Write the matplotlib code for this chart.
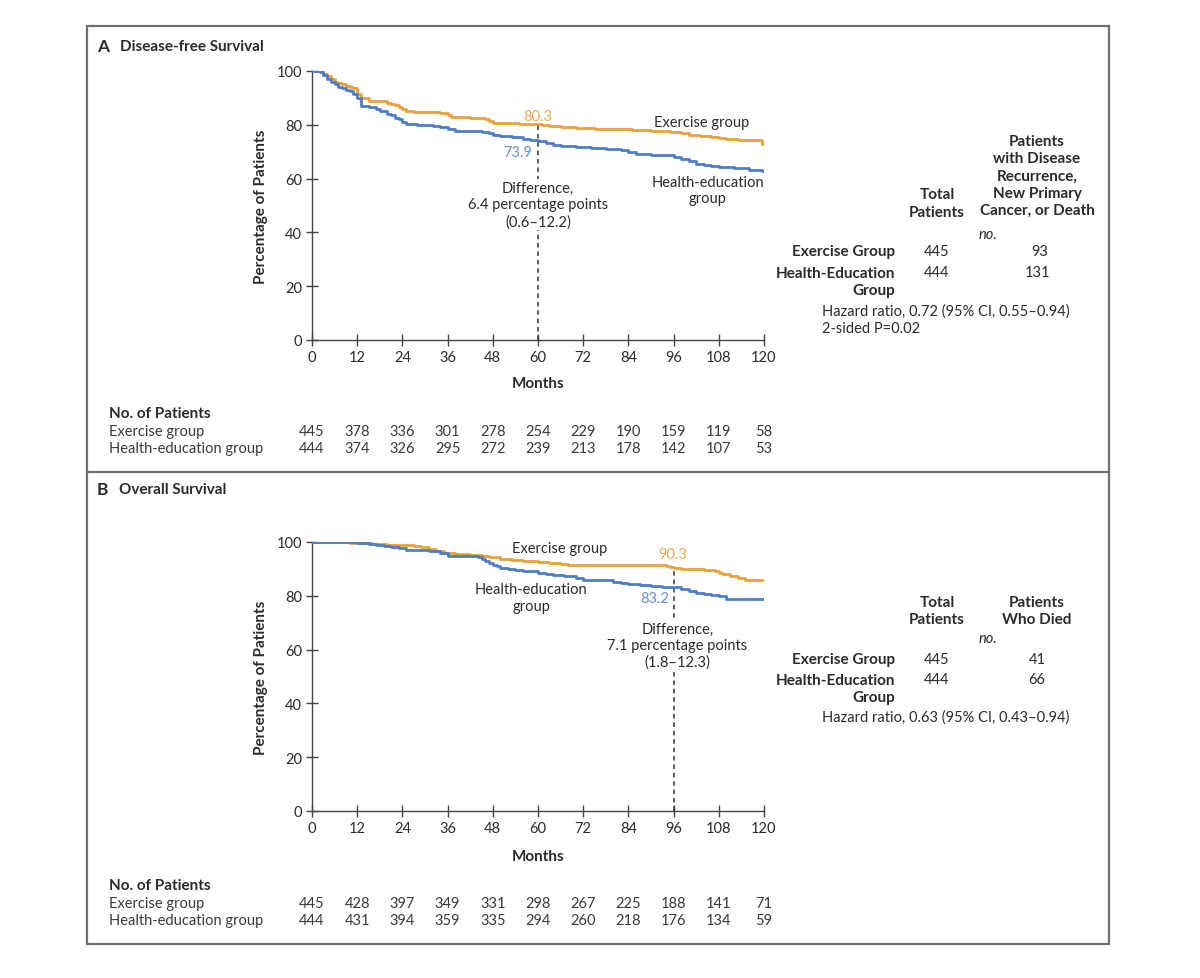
import matplotlib
matplotlib.use('Agg')
import matplotlib.pyplot as plt
from matplotlib.patches import Rectangle
from matplotlib.lines import Line2D

plt.rcParams['font.family'] = ['Lato', 'DejaVu Sans']

# data
months_ticks = [0, 12, 24, 36, 48, 60, 72, 84, 96, 108, 120]
pct_ticks = [0, 20, 40, 60, 80, 100]

# panel A: disease-free survival (step curves)
dfs_ex_t = [0, 3, 4, 5, 6, 7, 8, 9, 10, 11, 12, 13, 15, 18, 20, 21, 22, 23, 24, 25,
            27, 30, 34, 36, 37, 38, 42, 46, 47, 48, 50, 55, 58, 61, 63, 66, 70, 75,
            80, 85, 90, 95, 98, 100, 103, 106, 108, 110, 113, 117, 119.5, 120]
dfs_ex_s = [100, 99, 98, 97, 96, 95.5, 95, 94.5, 94, 93.5, 91.5, 90, 89, 88.7, 88.2,
            87.8, 87.2, 86.6, 85.8, 85.2, 84.9, 84.7, 84.4, 83.6, 83, 82.8, 82.6, 82.2,
            81.5, 80.8, 80.6, 80.4, 80.3, 79.8, 79.4, 79.1, 78.9, 78.6, 78.3, 78, 77.6,
            77.3, 76.8, 76.3, 75.9, 75.5, 75.1, 74.7, 74.4, 74.2, 73.0, 73.0]
dfs_he_t = [0, 2, 3, 4, 5, 6, 7, 8, 9, 10, 11, 12, 13, 15, 17, 18, 20, 21, 22, 23, 24,
            25, 28, 32, 34, 36, 38, 42, 45, 47, 48, 50, 53, 56, 58, 60, 62, 64, 66, 70,
            74, 78, 82, 84, 86, 90, 94, 96, 98, 100, 102, 104, 106, 108, 112, 116,
            119.5, 120]
dfs_he_s = [100, 99.5, 98.5, 97, 96, 95, 94, 93.5, 93, 92.5, 91.5, 90, 87, 86.5, 85.8,
            85, 84.2, 83.5, 82.7, 82, 81, 80.2, 80, 79.6, 79.2, 78.5, 77.8, 77.7, 77.5,
            77, 76.3, 75.9, 75.4, 74.9, 74.4, 73.9, 73.2, 72.6, 72.1, 71.9, 71.4, 71.1,
            70.6, 70.0, 69.0, 68.8, 68.6, 68.1, 67.3, 66.4, 65.6, 65, 64.6, 64.2, 63.8,
            63.3, 62.9, 62.9]

# panel B: overall survival
os_ex_t = [0, 10, 16, 20, 24, 27, 29, 31, 33, 35, 38, 42, 45, 47, 50, 53, 56, 60, 63,
           66, 68, 75, 85, 93, 94, 95, 96, 98, 100, 104, 107, 108, 109, 111, 113, 115, 120]
os_ex_s = [100, 99.8, 99.4, 99, 98.7, 98.5, 98.2, 97.5, 96.8, 96, 95.4, 95, 94.8, 94.6,
           93.8, 93.3, 93, 92.6, 92.3, 92, 91.6, 91.5, 91.4, 91.3, 91, 90.7, 90.3, 89.9,
           89.8, 89.7, 89.3, 88.6, 88, 87.3, 86.6, 86, 86]
os_he_t = [0, 12, 15, 17, 19, 21, 23, 25, 28, 31, 34, 36, 40, 44, 45, 46, 47, 48, 49,
           50, 52, 54, 56, 60, 62, 64, 67, 70, 72, 76, 80, 82, 84, 87, 90, 93, 96, 98,
           100, 102, 104, 106, 108, 110, 120]
os_he_s = [100, 99.8, 99.4, 99, 98.5, 98.2, 97.6, 97.2, 97, 96.6, 95.9, 94.9, 94.7,
           94.4, 93.8, 93.0, 92.2, 91.6, 91.0, 90.5, 90, 89.5, 89.2, 88.5, 88.0, 87.7,
           87.2, 86.7, 86.0, 85.8, 85.2, 84.8, 84.3, 84.0, 83.8, 83.4, 83.2, 82.4, 81.8,
           81.0, 80.6, 80.3, 79.8, 78.9, 78.9]

# numbers at risk
risk_ex_a = [445, 378, 336, 301, 278, 254, 229, 190, 159, 119, 58]
risk_he_a = [444, 374, 326, 295, 272, 239, 213, 178, 142, 107, 53]
risk_ex_b = [445, 428, 397, 349, 331, 298, 267, 225, 188, 141, 71]
risk_he_b = [444, 431, 394, 359, 335, 294, 260, 218, 176, 134, 59]

ORANGE = '#E9A23B'
BLUE = '#4E7DC8'
ORANGE_TXT = '#EBA94F'
BLUE_TXT = '#6A8FCB'
DARK = '#2b2b2b'
W, H = 1200, 979

fig = plt.figure(figsize=(W / 100, H / 100), dpi=100)


def fx(px):
    return px / W


def fy(py):
    return 1 - py / H


def ftext(px, py, s, **kw):
    kw.setdefault('color', DARK)
    kw.setdefault('fontsize', 10.5)
    fig.text(fx(px), fy(py), s, transform=fig.transFigure, **kw)


# outer frame and divider
fig.add_artist(Rectangle((fx(87), fy(945)), fx(1109) - fx(87), fy(27) - fy(945),
                         transform=fig.transFigure, fill=False, ec='#6f6f6f', lw=1.6))
fig.add_artist(Line2D([fx(87), fx(1109)], [fy(473), fy(473)],
                      transform=fig.transFigure, color='#6f6f6f', lw=1.6))


def km_panel(top_px, ex_t, ex_s, he_t, he_s, risk_ex, risk_he, months_px, risk_px):
    bottom_px = top_px + 269
    ax = fig.add_axes([fx(312), fy(bottom_px), fx(764) - fx(312), (269) / H])
    ax.step(ex_t, ex_s, where='post', color=ORANGE, lw=2.0, zorder=3)
    ax.step(he_t, he_s, where='post', color=BLUE, lw=2.0, zorder=3)
    ax.set_xlim(0, 120)
    ax.set_ylim(0, 100)
    ax.set_xticks(months_ticks)
    ax.set_yticks(pct_ticks)
    for sp in ['top', 'right']:
        ax.spines[sp].set_visible(False)
    for sp in ['left', 'bottom']:
        ax.spines[sp].set_color('#444444')
        ax.spines[sp].set_linewidth(1.0)
    ax.tick_params(direction='inout', length=8, width=1.0, color='#444444',
                   labelsize=10.5, labelcolor=DARK, pad=3)
    ax.set_ylabel('Percentage of Patients', fontsize=11, fontweight='bold',
                  color=DARK, labelpad=6)
    ftext(538, months_px, 'Months', fontsize=11, fontweight='bold',
          ha='center', va='center')
    # numbers at risk
    ftext(109, risk_px, 'No. of Patients', fontsize=11, fontweight='bold',
          va='center')
    ftext(109, risk_px + 18, 'Exercise group', va='center', color='#3a3a3a')
    ftext(109, risk_px + 35, 'Health-education group', va='center', color='#3a3a3a')
    for m, a, b in zip(months_ticks, risk_ex, risk_he):
        xpx = 312 + m / 120 * 452
        ftext(xpx, risk_px + 18, str(a), ha='center', va='center', color='#3a3a3a')
        ftext(xpx, risk_px + 35, str(b), ha='center', va='center', color='#3a3a3a')
    return ax


# panel A
ftext(103, 47, 'A', fontsize=12.5, fontweight='bold', ha='center', va='center')
ftext(120, 47, 'Disease-free Survival', fontsize=11, fontweight='bold', va='center')
ax_a = km_panel(72, dfs_ex_t, dfs_ex_s, dfs_he_t, dfs_he_s, risk_ex_a, risk_he_a, 384, 414)
ax_a.plot([60, 60], [0, 80.3], ls=(0, (3, 2.5)), color='#333333', lw=1.1, zorder=2)
ax_a.text(60, 83.3, '80.3', color=ORANGE_TXT, fontsize=10.5, ha='center', va='center')
ax_a.text(54.5, 70, '73.9', color=BLUE_TXT, fontsize=10.5, ha='center', va='center')
ax_a.text(60, 50.3, 'Difference,\n6.4 percentage points\n(0.6\u201312.2)', fontsize=10.5,
          color=DARK, ha='center', va='center', linespacing=1.22, zorder=4,
          bbox=dict(facecolor='white', edgecolor='none', pad=1.5))
ax_a.text(103.5, 81.2, 'Exercise group', fontsize=10.5, color=DARK, ha='center', va='center')
ax_a.text(105, 55.8, 'Health-education\ngroup', fontsize=10.5, color=DARK, ha='center',
          va='center', linespacing=1.22)

# panel A summary table
ftext(937, 204, 'Total\nPatients', fontsize=11, fontweight='bold', ha='center',
      va='center', linespacing=1.3)
ftext(1037, 176.5, 'Patients\nwith Disease\nRecurrence,\nNew Primary\nCancer, or Death',
      fontsize=11, fontweight='bold', ha='center', va='center', linespacing=1.3)
ftext(988, 235, 'no.', style='italic', fontsize=10.5, ha='center', va='center')
ftext(895, 252, 'Exercise Group', fontsize=11, fontweight='bold', ha='right', va='center')
ftext(895, 282.5, 'Health-Education\nGroup', fontsize=11, fontweight='bold', ha='right',
      va='center', linespacing=1.3)
ftext(937, 252, '445', ha='center', va='center')
ftext(1040, 252, '93', ha='center', va='center')
ftext(937, 273, '444', ha='center', va='center')
ftext(1038, 273, '131', ha='center', va='center')
ftext(822, 312, 'Hazard ratio, 0.72 (95% CI, 0.55\u20130.94)', va='center')
ftext(822, 329, '2-sided P=0.02', va='center')

# panel B
ftext(102, 490, 'B', fontsize=12.5, fontweight='bold', ha='center', va='center')
ftext(119, 490, 'Overall Survival', fontsize=11, fontweight='bold', va='center')
ax_b = km_panel(543, os_ex_t, os_ex_s, os_he_t, os_he_s, risk_ex_b, risk_he_b, 857, 886)
ax_b.plot([96, 96], [0, 90.3], ls=(0, (3, 2.5)), color='#333333', lw=1.1, zorder=2)
ax_b.text(95.7, 95.7, '90.3', color=ORANGE_TXT, fontsize=10.5, ha='center', va='center')
ax_b.text(91, 79, '83.2', color=BLUE_TXT, fontsize=10.5, ha='center', va='center')
ax_b.text(97, 61.5, 'Difference,\n7.1 percentage points\n(1.8\u201312.3)', fontsize=10.5,
          color=DARK, ha='center', va='center', linespacing=1.22, zorder=4,
          bbox=dict(facecolor='white', edgecolor='none', pad=1.5))
ax_b.text(65.7, 97.6, 'Exercise group', fontsize=10.5, color=DARK, ha='center', va='center')
ax_b.text(58.2, 79.3, 'Health-education\ngroup', fontsize=10.5, color=DARK, ha='center',
          va='center', linespacing=1.22)

# panel B summary table
ftext(937, 611.5, 'Total\nPatients', fontsize=11, fontweight='bold', ha='center',
      va='center', linespacing=1.3)
ftext(1037, 611.5, 'Patients\nWho Died', fontsize=11, fontweight='bold', ha='center',
      va='center', linespacing=1.3)
ftext(988, 639, 'no.', style='italic', fontsize=10.5, ha='center', va='center')
ftext(895, 660, 'Exercise Group', fontsize=11, fontweight='bold', ha='right', va='center')
ftext(895, 689.5, 'Health-Education\nGroup', fontsize=11, fontweight='bold', ha='right',
      va='center', linespacing=1.3)
ftext(937, 660, '445', ha='center', va='center')
ftext(1037, 660, '41', ha='center', va='center')
ftext(937, 680, '444', ha='center', va='center')
ftext(1037, 680, '66', ha='center', va='center')
ftext(822, 718, 'Hazard ratio, 0.63 (95% CI, 0.43\u20130.94)', va='center')

fig.savefig('out.png', dpi=100, facecolor='white')
